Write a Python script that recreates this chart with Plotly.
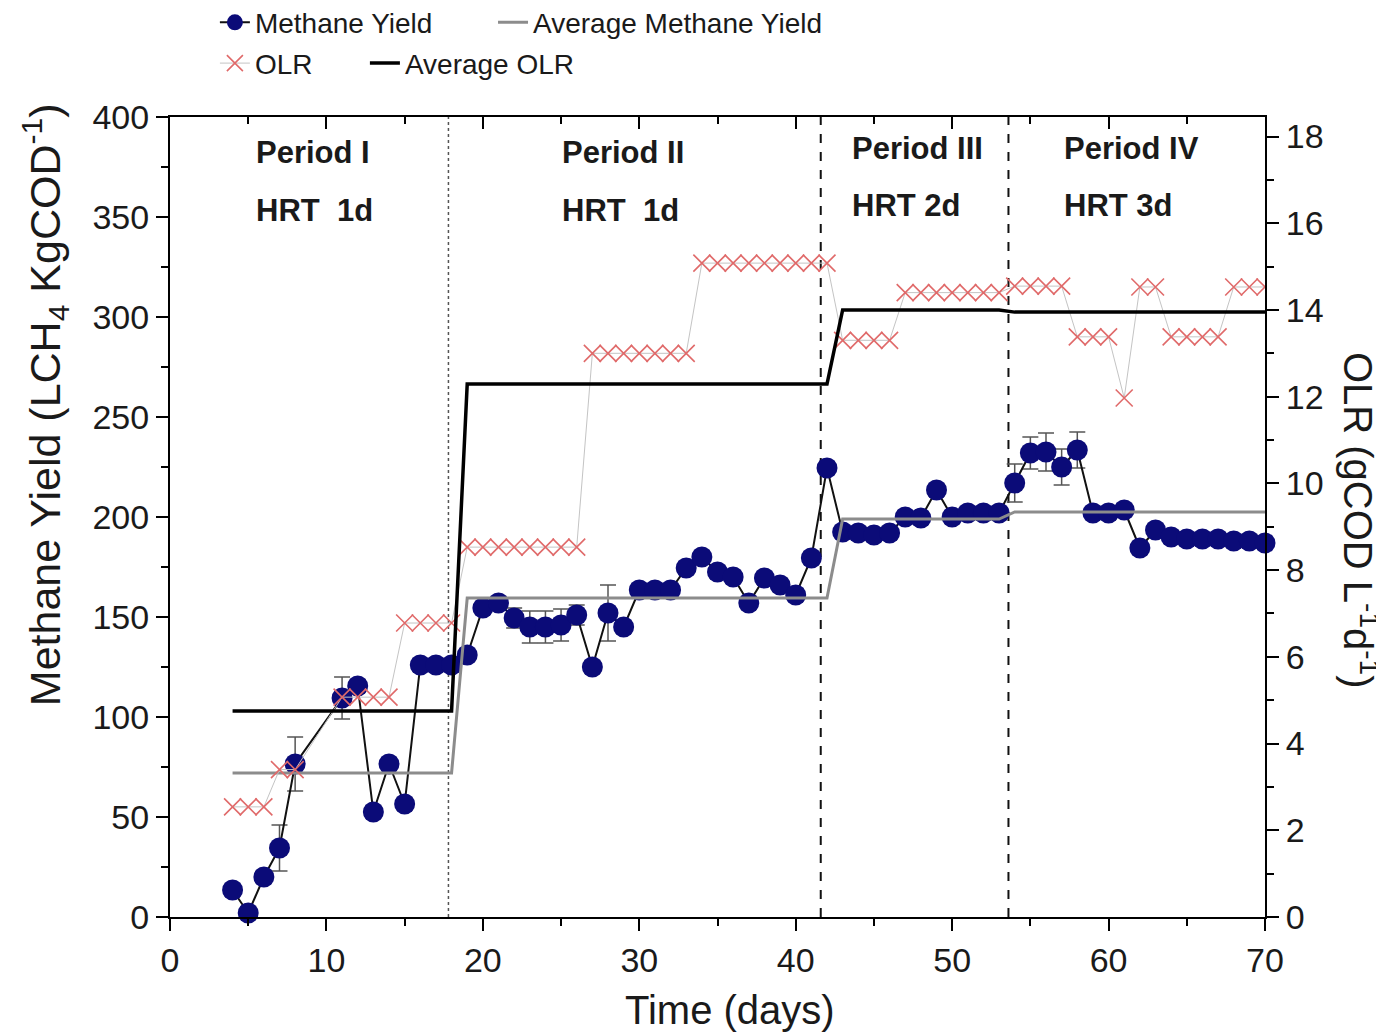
import plotly.graph_objects as go

# ---------------- data ----------------
days_my = [4, 5, 6, 7, 8, 11, 12, 13, 14, 15, 16, 17, 18, 19, 20, 21, 22, 23, 24, 25, 26,
           27, 28, 29, 30, 31, 32, 33, 34, 35, 36, 37, 38, 39, 40, 41, 42, 43, 44, 45, 46,
           47, 48, 49, 50, 51, 52, 53, 54, 55, 56, 57, 58, 59, 60, 61, 62, 63, 64, 65, 66,
           67, 68, 69, 70]
methane_yield = [13.5, 2, 20, 34.5, 76.5, 109.5, 115.5, 52.5, 76.5, 56.5, 126, 126, 126, 131,
                 154.5, 157, 149.5, 145, 145, 146, 151, 125, 152, 145, 163.5, 163.5, 163.5,
                 174.5, 180, 172.5, 170, 157, 169.5, 166, 161, 179.5, 224.5, 192.5, 192, 191,
                 192, 200, 199.5, 213.5, 200, 202, 202, 202, 217, 232, 232.5, 225, 233.5, 202,
                 202, 203.5, 184.5, 193.5, 190, 189, 189, 189, 188, 188, 187]
methane_err = [3, 3, 3, 11.5, 13.5, 10.5, 3, 3, 3, 3, 3, 3, 3, 3,
               3, 3, 5, 8, 8, 8, 5, 3, 14, 3, 3, 3, 3,
               3, 3, 3, 3, 3, 3, 3, 3, 3, 3, 3, 3, 3,
               3, 3, 3, 3, 3, 3, 3, 3, 9.5, 8, 9.5, 9, 9, 3,
               3, 3, 3, 3, 3, 3, 3, 3, 3, 3, 3]

days_olr = [4, 5, 6, 7, 8, 11, 12, 13, 14, 15, 16, 17, 18, 19, 20, 21, 22, 23, 24, 25, 26,
            27, 28, 29, 30, 31, 32, 33, 34, 35, 36, 37, 38, 39, 40, 41, 42, 43, 44, 45, 46,
            47, 48, 49, 50, 51, 52, 53, 54, 55, 56, 57, 58, 59, 60, 61, 62, 63, 64, 65, 66,
            67, 68, 69, 70]
olr = [2.54, 2.54, 2.54, 3.4, 3.4, 5.07, 5.07, 5.07, 5.07, 6.78, 6.78, 6.78, 6.78,
       8.53, 8.53, 8.53, 8.53, 8.53, 8.53, 8.53, 8.53,
       13.0, 13.0, 13.0, 13.0, 13.0, 13.0, 13.0,
       15.08, 15.08, 15.08, 15.08, 15.08, 15.08, 15.08, 15.08, 15.08,
       13.3, 13.3, 13.3, 13.3,
       14.4, 14.4, 14.4, 14.4, 14.4, 14.4, 14.4,
       14.55, 14.55, 14.55, 14.55,
       13.38, 13.38, 13.38, 11.97, 14.53, 14.53,
       13.38, 13.38, 13.38, 13.38, 14.53, 14.53, 14.53]

avg_days = [4, 18, 19, 42, 43, 53, 54, 70]
avg_methane = [72, 72, 159.5, 159.5, 199, 199, 202.5, 202.5]
avg_olr = [4.75, 4.75, 12.29, 12.29, 14.0, 14.0, 13.95, 13.95]

period_bounds = [17.8, 41.6, 53.6]
period_labels = ["Period I", "Period II", "Period III", "Period IV"]
hrt_labels = ["HRT  1d", "HRT  1d", "HRT 2d", "HRT 3d"]
label_x = [5.4, 24.9, 43.5, 57.0]
label_y_period = [382.5, 382.5, 384.5, 384.5]
label_y_hrt = [353.5, 353.5, 356, 356]

FONT = "Arial, Liberation Sans, sans-serif"
TXT = "#1a1a1a"

fig = go.Figure()

fig.add_trace(go.Scatter(
    x=days_my, y=methane_yield, name="Methane Yield", mode="lines+markers",
    line=dict(color="#111111", width=2),
    marker=dict(color="#0b0b78", size=21, line=dict(width=0)),
    error_y=dict(type="data", array=methane_err, color="#555555", thickness=1.5, width=8),
    cliponaxis=False, legend="legend", xaxis="x", yaxis="y"))

fig.add_trace(go.Scatter(
    x=avg_days, y=avg_methane, name="Average Methane Yield", mode="lines",
    line=dict(color="#8c8c8c", width=3), legend="legend2", xaxis="x", yaxis="y"))

fig.add_trace(go.Scatter(
    x=days_olr, y=olr, name="OLR", mode="lines+markers",
    line=dict(color="#c4c4c4", width=1),
    marker=dict(symbol="x-thin", size=17, color="#e06a6a",
                line=dict(color="#e06a6a", width=1.6)),
    legend="legend3", xaxis="x", yaxis="y2"))

fig.add_trace(go.Scatter(
    x=avg_days, y=avg_olr, name="Average OLR", mode="lines",
    line=dict(color="#000000", width=3.5), legend="legend4", xaxis="x", yaxis="y2"))

# invisible trace to bring up the top (mirror) axis
fig.add_trace(go.Scatter(x=[0, 70], y=[None, None], mode="lines", showlegend=False,
                         hoverinfo="skip", xaxis="x2", yaxis="y"))

for i, b in enumerate(period_bounds):
    fig.add_shape(type="line", xref="x", yref="paper", x0=b, x1=b, y0=0, y1=1,
                  line=dict(color="#555555" if i == 0 else "#111111",
                            width=1.5 if i == 0 else 2,
                            dash="dot" if i == 0 else "dash"),
                  layer="below")

for lx, py, hy, pt, ht in zip(label_x, label_y_period, label_y_hrt, period_labels, hrt_labels):
    fig.add_annotation(x=lx, y=py, xref="x", yref="y", text=f"<b>{pt}</b>", showarrow=False,
                       xanchor="left", yanchor="middle",
                       font=dict(family=FONT, size=31, color=TXT))
    fig.add_annotation(x=lx, y=hy, xref="x", yref="y", text=f"<b>{ht}</b>", showarrow=False,
                       xanchor="left", yanchor="middle",
                       font=dict(family=FONT, size=31, color=TXT))

# axis titles
fig.add_annotation(x=-0.114, y=0.64, xref="paper", yref="paper",
                   text="Methane Yield (LCH<sub>4</sub> KgCOD<sup>-1</sup>)", textangle=-90,
                   showarrow=False, xanchor="center", yanchor="middle",
                   font=dict(family=FONT, size=43, color=TXT))
fig.add_annotation(x=1.087, y=0.496, xref="paper", yref="paper",
                   text="OLR (gCOD L<sup>-1</sup>d<sup>-1</sup>)", textangle=90,
                   showarrow=False, xanchor="center", yanchor="middle",
                   font=dict(family=FONT, size=40, color=TXT))
fig.add_annotation(x=0.511, y=-0.116, xref="paper", yref="paper",
                   text="Time (days)", showarrow=False, xanchor="center", yanchor="middle",
                   font=dict(family=FONT, size=40, color=TXT))

axis_common = dict(showline=True, linecolor="black", linewidth=2, showgrid=False,
                   zeroline=False, tickcolor="black", tickwidth=2,
                   tickfont=dict(family=FONT, size=34, color=TXT))
minor_out = lambda d: dict(dtick=d, ticks="outside", ticklen=7, tickcolor="black", tickwidth=2)


def leg(x, y):
    return dict(orientation="h", x=x, y=y, xanchor="left", yanchor="middle",
                font=dict(family=FONT, size=28, color=TXT), bgcolor="rgba(0,0,0,0)")


fig.update_layout(
    width=1376, height=1026,
    margin=dict(l=162, r=119, t=109, b=117, autoexpand=False),
    paper_bgcolor="white", plot_bgcolor="white",
    font=dict(family=FONT, color=TXT),
    xaxis=dict(range=[0, 70], dtick=10, ticks="outside", ticklen=12,
               minor=minor_out(5), **axis_common),
    xaxis2=dict(range=[0, 70], overlaying="x", side="top", anchor="y", dtick=10,
                ticks="inside", ticklen=12, showticklabels=False,
                minor=dict(dtick=5, ticks="inside", ticklen=7, tickcolor="black", tickwidth=2),
                **axis_common),
    yaxis=dict(range=[0, 400], dtick=50, ticks="outside", ticklen=12,
               minor=minor_out(25), **axis_common),
    yaxis2=dict(range=[0, 18.45], dtick=2, ticks="outside", ticklen=12, side="right",
                overlaying="y", anchor="x", minor=minor_out(1), **axis_common),
    legend=leg(0.041, 1.118),
    legend2=leg(0.295, 1.118),
    legend3=leg(0.041, 1.067),
    legend4=leg(0.178, 1.067),
    showlegend=True,
)

fig.write_html("out.html")
